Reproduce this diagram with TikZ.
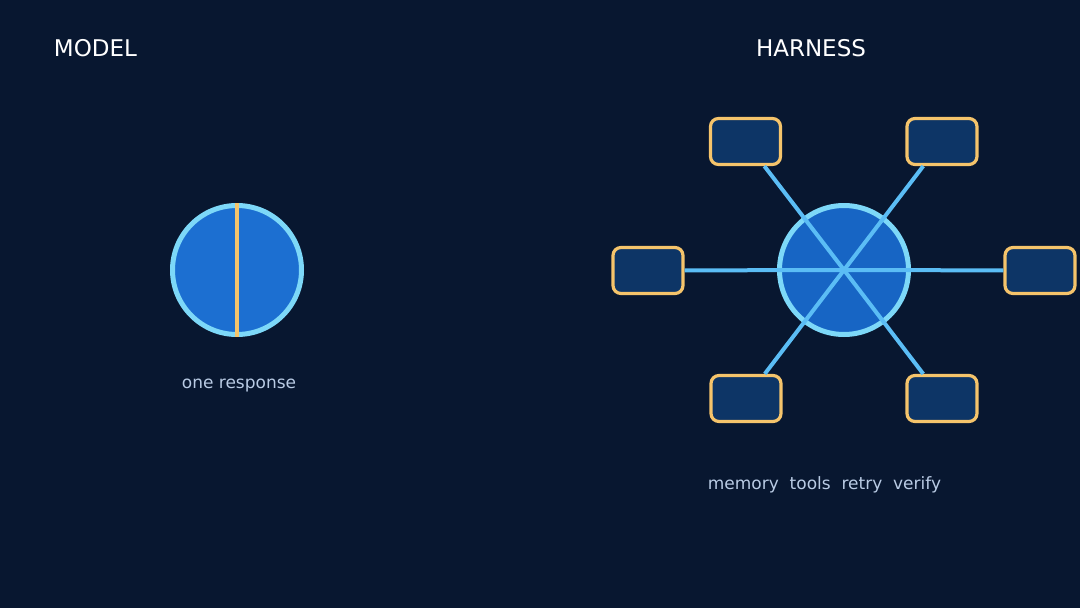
\documentclass[tikz,border=0pt]{standalone}
\usepackage{fontspec}
\setmainfont{DejaVu Sans}
\definecolor{bgnavy}{HTML}{081730}
\definecolor{orbfill}{HTML}{1C6FD1}
\definecolor{hubfill}{HTML}{1765C4}
\definecolor{orbrim}{HTML}{7DD8F8}
\definecolor{gold}{HTML}{F5C46B}
\definecolor{boxfill}{HTML}{0D3566}
\definecolor{spoke}{HTML}{5BBDF5}
\definecolor{captext}{HTML}{B9CBE4}
\tikzstyle{heading}=[text=white,font=\fontsize{23}{26}\selectfont,inner sep=0pt,anchor=base]
\tikzstyle{caption}=[text=captext,font=\fontsize{17}{20}\selectfont,inner sep=0pt,anchor=base]
\tikzstyle{orb}=[circle,draw=orbrim,line width=5pt,minimum size=129pt,inner sep=0pt]
\tikzstyle{toolbox}=[rectangle,rounded corners=8pt,draw=gold,fill=boxfill,line width=3.2pt,minimum width=70pt,minimum height=46pt,inner sep=0pt]
\tikzstyle{spokeline}=[draw=spoke,line width=4pt]
\newcommand{\toolnode}[2]{
	\node[toolbox] (#1) at (#2) {};
}
\begin{document}
\begin{tikzpicture}[x=1pt,y=-1pt]
	\fill[bgnavy] (0,0) rectangle (1080,608);
	\useasboundingbox (0,0) rectangle (1080,608);
	% left: the model
	\node[heading] (modeltitle) at (95.5,56) {MODEL};
	\node[orb,fill=orbfill] (model) at (237,270) {};
	\draw[gold,line width=4.5pt] (model.north) -- (model.south);
	\node[caption] (modelcap) at (239,388) {one response};
	% right: the harness
	\node[heading] (harnesstitle) at (811,56) {HARNESS};
	\node[orb,fill=hubfill] (hub) at (844,270) {};
	\toolnode{tl}{745.5,141.5}
	\toolnode{tr}{942,141.5}
	\toolnode{ml}{648,270.5}
	\toolnode{mr}{1040,270.5}
	\toolnode{bl}{746,398.5}
	\toolnode{br}{942,398.5}
	\foreach \b in {tl,tr,ml,mr,bl,br}
		\draw[spokeline] (\b) -- (hub.center);
	\node[caption] (harnesscap) at (824.5,489) {memory\ \ tools\ \ retry\ \ verify};
\end{tikzpicture}
\end{document}
